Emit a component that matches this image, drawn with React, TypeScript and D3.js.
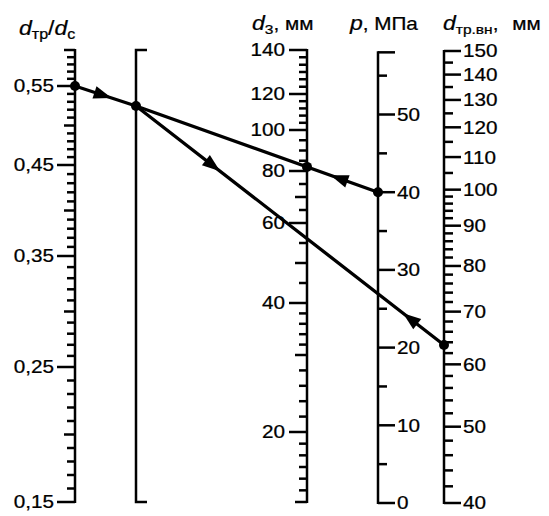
import React from 'react';
import * as d3 from 'd3';

// ---- data ----
const ratioLabels = [0.15, 0.25, 0.35, 0.45, 0.55];
const ratioKnots = [0.15, 0.25, 0.35, 0.45, 0.55, 0.6];
const d3Labels = [20, 40, 60, 80, 100, 120, 140];
const d3Knots = [14, 20, 30, 40, 60, 80, 100, 120, 140];
const d3Minor = [15, 16, 17, 18, 19, 22, 24, 26, 28, 32, 34, 36, 38, 45, 55, 65, 75, 85, 90, 95, 104, 108, 112, 116, 123.3, 126.7, 130, 133.3, 136.7];
const d3Medium = [14, 30, 50, 70];
const pLabels = [0, 10, 20, 30, 40, 50];
const pMinor = [5, 15, 25, 35, 45, 55];
const pMax = 58;
const dtrLabels = [40, 50, 60, 70, 80, 90, 100, 110, 120, 130, 140, 150];
const dtrMinor = [42, 44, 46, 48, 52, 54, 56, 58, 62, 64, 66, 68, 72, 74, 76, 78, 82, 84, 86, 88, 92, 94, 96, 98, 105, 115, 125, 135, 145];

// key example
const keyRatio = 0.55;
const keyD3 = 82;
const keyP = 40;
const keyDtr = 63.5;

// ---- layout ----
const W = 549, H = 516;
const AX = 75, BX = 136, CX = 307, DX = 378, EX = 444;
const TOP = 50, BOT = 502;
const FONT = "'Liberation Sans', Arial, sans-serif";
const SX = 1.15;

const yRatio = d3.scaleLinear().domain(ratioKnots).range([502, 367, 256, 165, 86, 50]);
const yD3 = d3.scaleLinear().domain(d3Knots).range([502, 432, 355, 303, 223, 171, 130, 94, 50]);
const yP = d3.scaleLinear().domain([0, 50]).range([503, 114.5]);
const yDtr = d3.scaleLog().domain([40, 150]).range([503, 51]);

const fmtRatio = (v: number) => d3.format('.2f')(v).replace('.', ',');

function Lbl({ x, y, anchor, size = 18, children }: any) {
  return (
    <text transform={`translate(${x},${y}) scale(${SX},1)`} textAnchor={anchor} dy="0.36em"
      fontFamily={FONT} fontSize={size} fill="#000" stroke="#000" strokeWidth={0.25}>{children}</text>
  );
}

function arrowPath(x1: number, y1: number, x2: number, y2: number, t: number) {
  const L = 18, Wd = 6.5;
  const dx = x2 - x1, dy = y2 - y1;
  const len = Math.hypot(dx, dy);
  const ux = dx / len, uy = dy / len;
  const nx = -uy, ny = ux;
  const cx = x1 + dx * t, cy = y1 + dy * t;
  const tx = cx + ux * L / 2, ty = cy + uy * L / 2;
  const bx = cx - ux * L / 2, by = cy - uy * L / 2;
  return `M${tx},${ty}L${bx + nx * Wd},${by + ny * Wd}L${bx - nx * Wd},${by - ny * Wd}Z`;
}

export default function App() {
  const SW = 2.5;
  const ratioTicks = d3.range(15, 61).map((k) => k / 100);
  const pA = { x: AX, y: yRatio(keyRatio) };
  const pC = { x: CX, y: yD3(keyD3) };
  const pD = { x: DX, y: yP(keyP) };
  const pivotY = pD.y + (pC.y - pD.y) * (BX - DX) / (CX - DX);
  const pB = { x: BX, y: pivotY };
  const pE = { x: EX, y: yDtr(keyDtr) };
  const titleStyle = { stroke: '#000', strokeWidth: 0.25 } as any;

  return (
    <svg width={W} height={H} style={{ position: 'absolute', left: 0, top: 0, background: '#fff' }}>
      <rect width={W} height={H} fill="#fff" />
      <g stroke="#000" strokeWidth={SW} fill="none" strokeLinecap="butt">
        {/* Axis A */}
        <line x1={AX} x2={AX} y1={TOP - 1} y2={BOT + 1} />
        {ratioTicks.map((v) => {
          const k = Math.round(v * 100);
          const len = k % 10 === 5 ? 18 : k % 10 === 0 ? 11 : 8;
          return <line key={k} x1={AX - len} x2={AX} y1={yRatio(v)} y2={yRatio(v)} />;
        })}
        {/* Axis B */}
        <path d={`M${BX + 11},${TOP}H${BX}V${BOT}H${BX + 11}`} />
        {/* Axis C */}
        <line x1={CX} x2={CX} y1={TOP - 1} y2={BOT + 1} />
        {d3Labels.map((v) => <line key={'l' + v} x1={CX - 18} x2={CX} y1={yD3(v)} y2={yD3(v)} />)}
        {d3Minor.map((v) => <line key={'m' + v} x1={CX - 8} x2={CX} y1={yD3(v)} y2={yD3(v)} />)}
        {d3Medium.map((v) => <line key={'md' + v} x1={CX - 12} x2={CX} y1={yD3(v)} y2={yD3(v)} />)}
        {/* Axis D */}
        <line x1={DX} x2={DX} y1={yP(pMax) - 1} y2={yP(0) + 1} />
        {pLabels.concat([pMax]).map((v) => <line key={'pl' + v} x1={DX} x2={DX + 17} y1={yP(v)} y2={yP(v)} />)}
        {pMinor.map((v) => <line key={'pm' + v} x1={DX} x2={DX + 9} y1={yP(v)} y2={yP(v)} />)}
        {/* Axis E */}
        <line x1={EX} x2={EX} y1={yDtr(150) - 1} y2={yDtr(40) + 1} />
        {dtrLabels.map((v) => <line key={'el' + v} x1={EX} x2={EX + 17} y1={yDtr(v)} y2={yDtr(v)} />)}
        {dtrMinor.map((v) => <line key={'em' + v} x1={EX} x2={EX + 9} y1={yDtr(v)} y2={yDtr(v)} />)}
      </g>

      {/* labels */}
      {ratioLabels.map((v) => <Lbl key={'rl' + v} x={54} y={yRatio(v)} anchor="end">{fmtRatio(v)}</Lbl>)}
      {d3Labels.map((v) => <Lbl key={'dl' + v} x={285} y={yD3(v)} anchor="end">{v}</Lbl>)}
      {pLabels.map((v) => <Lbl key={'pl' + v} x={397} y={yP(v)} anchor="start">{v}</Lbl>)}
      {dtrLabels.map((v) => <Lbl key={'el' + v} x={463} y={yDtr(v)} anchor="start">{v}</Lbl>)}

      {/* titles */}
      <text transform={`translate(19,35) scale(${SX},1)`} fontFamily={FONT} fontSize={20} style={titleStyle}>
        <tspan fontStyle="italic">d</tspan>
        <tspan fontSize={14} dy={4}>тр</tspan>
        <tspan dy={-4}>/</tspan>
        <tspan fontStyle="italic">d</tspan>
        <tspan fontSize={14} dy={4}>с</tspan>
      </text>
      <text transform={`translate(252,30) scale(${SX},1)`} fontFamily={FONT} fontSize={18} style={titleStyle}>
        <tspan fontStyle="italic" fontSize={20}>d</tspan>
        <tspan fontSize={13.5} dy={4}>3</tspan>
        <tspan dy={-4}>, мм</tspan>
      </text>
      <text transform={`translate(350,30) scale(${SX},1)`} fontFamily={FONT} fontSize={18} style={titleStyle}>
        <tspan fontStyle="italic" fontSize={20}>p</tspan>
        <tspan>, МПа</tspan>
      </text>
      <text transform={`translate(443,30) scale(${SX},1)`} fontFamily={FONT} fontSize={18} style={titleStyle}>
        <tspan fontStyle="italic" fontSize={20}>d</tspan>
        <tspan fontSize={13.5} dy={4}>тр.вн</tspan>
        <tspan dy={-4}>,</tspan>
        <tspan dx={12}>мм</tspan>
      </text>

      {/* key lines */}
      <g stroke="#000" strokeWidth={3.3} fill="none" strokeLinecap="round">
        <line x1={pA.x} y1={pA.y} x2={pB.x} y2={pB.y} />
        <line x1={pD.x} y1={pD.y} x2={pB.x} y2={pB.y} />
        <line x1={pB.x} y1={pB.y} x2={pE.x} y2={pE.y} />
      </g>
      <g fill="#000">
        <path d={arrowPath(pA.x, pA.y, pB.x, pB.y, 0.46)} />
        <path d={arrowPath(pD.x, pD.y, pC.x, pC.y, 0.55)} />
        <path d={arrowPath(pB.x, pB.y, pE.x, pE.y, 0.25)} />
        <path d={arrowPath(pE.x, pE.y, pB.x, pB.y, 0.11)} />
        {[pA, pB, pC, pD, pE].map((p, i) => <circle key={i} cx={p.x} cy={p.y} r={5} />)}
      </g>
    </svg>
  );
}
